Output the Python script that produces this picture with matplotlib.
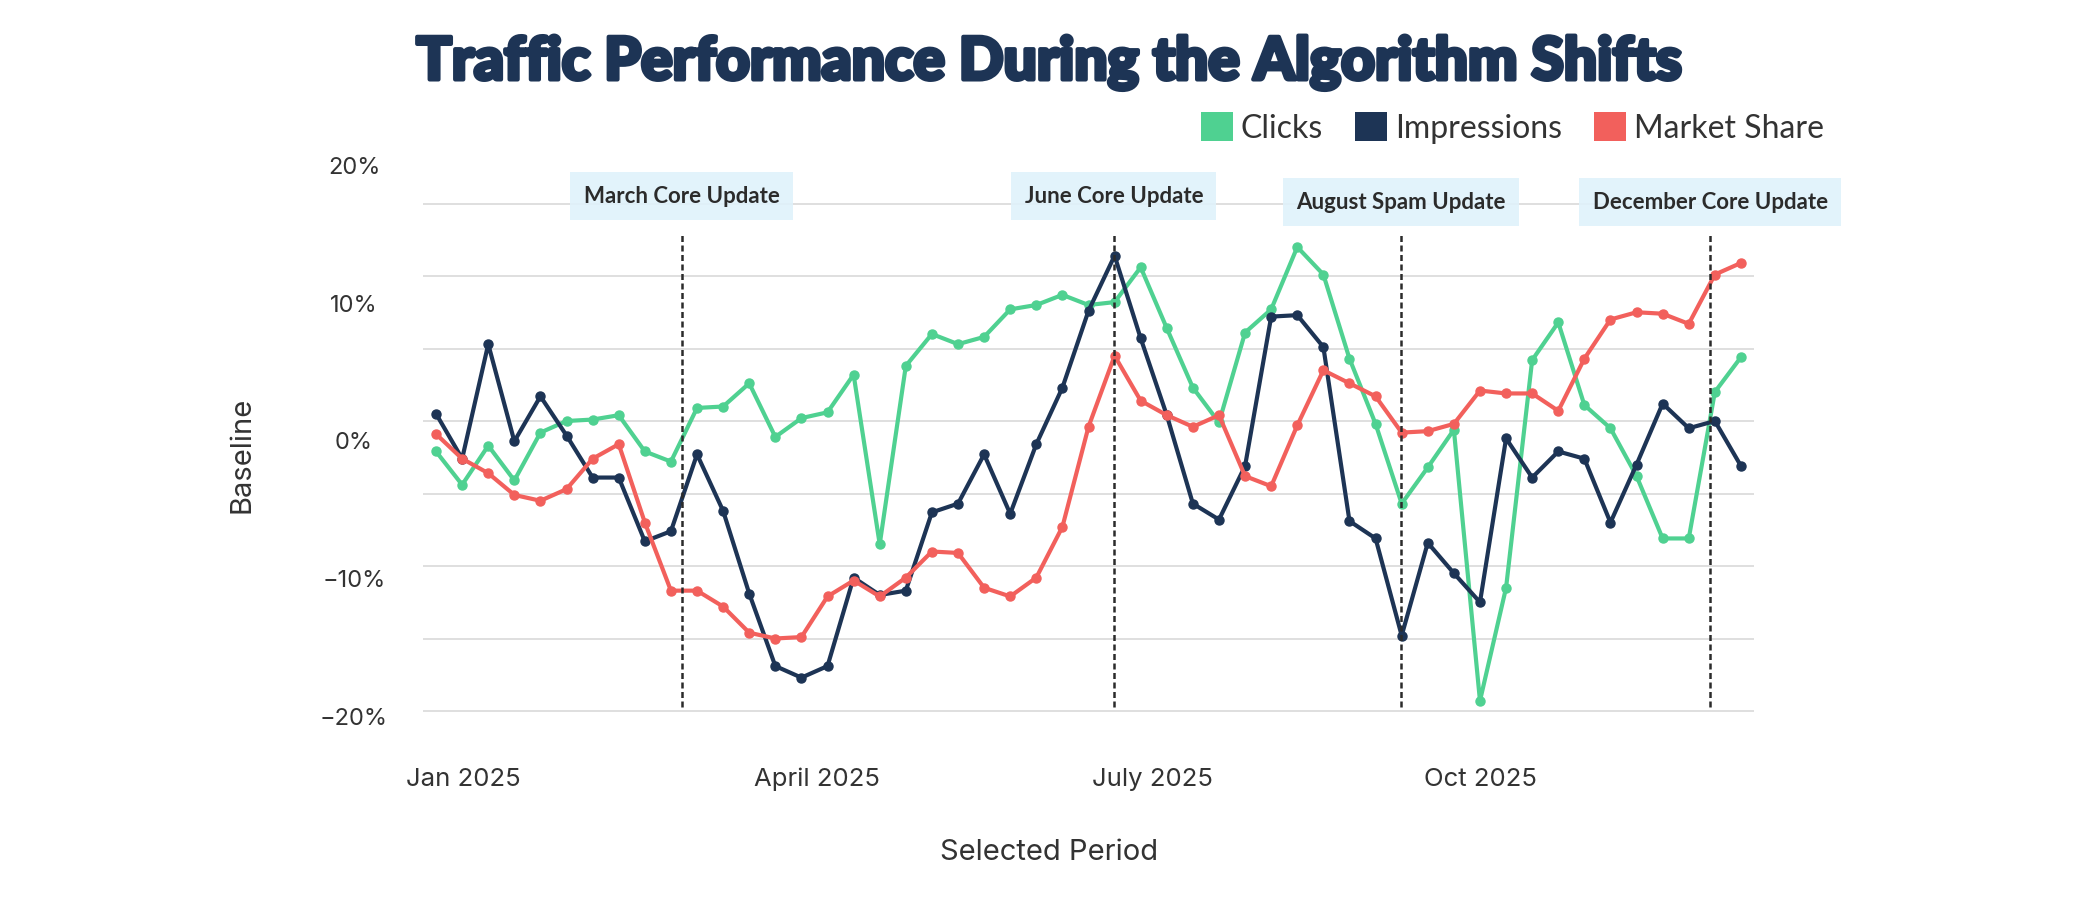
import numpy as np
import matplotlib
matplotlib.use("Agg")
from matplotlib import pyplot as plt
from matplotlib.patches import Patch
import matplotlib.patheffects as pe

# weekly points, 2025
weeks = np.arange(51)

clicks = [-2.1, -4.4, -1.7, -4.1, -0.8, 0.0, 0.1, 0.4, -2.1, -2.8,
          0.9, 1.0, 2.6, -1.1, 0.2, 0.6, 3.2, -8.5,
          3.8, 6.0, 5.3, 5.8, 7.7, 8.0, 8.7, 8.0, 8.2, 10.6, 6.4, 2.3, -0.1, 6.1, 7.7, 12.0, 10.1,
          4.3, -0.2, -5.7, -3.2, -0.6, -19.3, -11.5, 4.2, 6.8, 1.1, -0.5, -3.8, -8.1, -8.1, 2.0, 4.4]
impressions = [0.5, -2.6, 5.3, -1.4, 1.7, -1.0, -3.9, -3.9, -8.3, -7.6,
               -2.3, -6.2, -11.9, -16.9, -17.7, -16.9, -10.8, -12.0,
               -11.7, -6.3, -5.7, -2.3, -6.4, -1.6, 2.3, 7.6, 11.4, 5.7, 0.4, -5.7, -6.8, -3.1, 7.2, 7.3, 5.1,
               -6.9, -8.1, -14.8, -8.4, -10.5, -12.5, -1.2, -3.9, -2.1, -2.6, -7.0, -3.0, 1.2, -0.5, 0.0, -3.1]
market_share = [-0.9, -2.6, -3.6, -5.1, -5.5, -4.7, -2.6, -1.6, -7.0, -11.7,
                -11.7, -12.8, -14.6, -15.0, -14.9, -12.1, -11.0, -12.1,
                -10.8, -9.0, -9.1, -11.5, -12.1, -10.8, -7.3, -0.4, 4.5, 1.4, 0.4, -0.4, 0.4, -3.8, -4.5, -0.3, 3.5,
                2.6, 1.7, -0.8, -0.7, -0.2, 2.1, 1.9, 1.9, 0.7, 4.3, 7.0, 7.5, 7.4, 6.7, 10.1, 10.9]

series_names = ["Clicks", "Impressions", "Market Share"]
series_colors = ["#4fd191", "#1d3455", "#f2605c"]

updates = ["March Core Update", "June Core Update", "August Spam Update", "December Core Update"]
update_weeks = [9.41, 25.97, 36.96, 48.82]

tick_weeks = [1.05, 14.59, 27.46, 40.03]
tick_labels = ["Jan 2025", "April 2025", "July 2025", "Oct 2025"]

# the y labels do not sit on the grid lines in the original
ylabel_values = [17.63, 8.13, -1.37, -10.87, -20.37]
ylabel_text = ["20%", "10%", "0%", "\u221210%", "\u221220%"]
grid_values = np.arange(-20, 16, 5)

W, H = 2100, 900
TXT = "#333333"
NAVY = "#1d3455"

fig = plt.figure(figsize=(W / 100, H / 100), dpi=100)
ax = fig.add_axes([423 / W, 1 - 740 / H, (1754 - 423) / W, (740 - 140) / H])
ax.set_xlim(-0.5, 50.5)
ax.set_ylim(-22.0, 19.38)

for s in ax.spines.values():
    s.set_visible(False)

ax.set_yticks(grid_values, minor=True)
ax.set_yticks(ylabel_values, ylabel_text)
ax.set_axisbelow(True)
ax.grid(False)
ax.grid(True, which="minor", axis="y", color="#dcdcdc", lw=1.3, zorder=0.5)
ax.tick_params(which="both", length=0)
ax.tick_params(axis="y", which="major", pad=49.7, labelsize=17, labelcolor=TXT)
for lab in ax.get_yticklabels():
    lab.set_ha("center")
    lab.set_family("Inter")

ax.set_xticks(tick_weeks, tick_labels)
ax.tick_params(axis="x", pad=20, labelsize=18.5, labelcolor=TXT)
for lab in ax.get_xticklabels():
    lab.set_family("Inter")

for vals, name, col in zip([clicks, impressions, market_share], series_names, series_colors):
    ax.plot(weeks, vals, color=col, lw=3.0, marker="o", ms=6.5, label=name, zorder=3)

label_y = [15.5, 15.5, 15.1, 15.1]
for name, wk, ly in zip(updates, update_weeks, label_y):
    ax.vlines(wk, -19.7, 13.0, colors="#2b2b2b", linestyles=(0, (2.4, 1.4)), lw=1.8, zorder=4)
    ax.text(wk, ly, name, ha="center", va="center", fontsize=16, fontweight="bold",
            family="Lato", color="#2b2b2b", zorder=2,
            bbox=dict(boxstyle="square,pad=0.6", fc="#dff2fb", ec="none", alpha=0.88))

ax.set_xlabel("Selected Period", family="Inter", fontsize=21, color=TXT)
ax.xaxis.set_label_coords((1049.5 - 423) / 1331, -(852 - 740) / 600)
ax.xaxis.label.set_va("center")
ax.set_ylabel("Baseline", family="Inter", fontsize=21, color=TXT)
ax.yaxis.set_label_coords(-(423 - 241.7) / 1331, (740 - 455) / 600)
ax.yaxis.label.set_va("center")

fig.text(1049.5 / W, 1 - 63 / H, "Traffic Performance During the Algorithm Shifts",
         ha="center", va="center", fontsize=42.3, fontweight="black", family="Lato", color=NAVY,
         path_effects=[pe.withStroke(linewidth=3, foreground=NAVY)])

handles = [Patch(facecolor=c, label=n) for n, c in zip(series_names, series_colors)]
fig.legend(handles=handles, loc="center right", bbox_to_anchor=(1824 / W, 1 - 128 / H),
           ncol=3, frameon=False, prop={"family": "Lato", "size": 23},
           handlelength=1.0, handleheight=1.0, handletextpad=0.25, columnspacing=1.0,
           borderpad=0, borderaxespad=0, labelcolor=TXT)

fig.savefig("out.png", dpi=100, facecolor="white")
